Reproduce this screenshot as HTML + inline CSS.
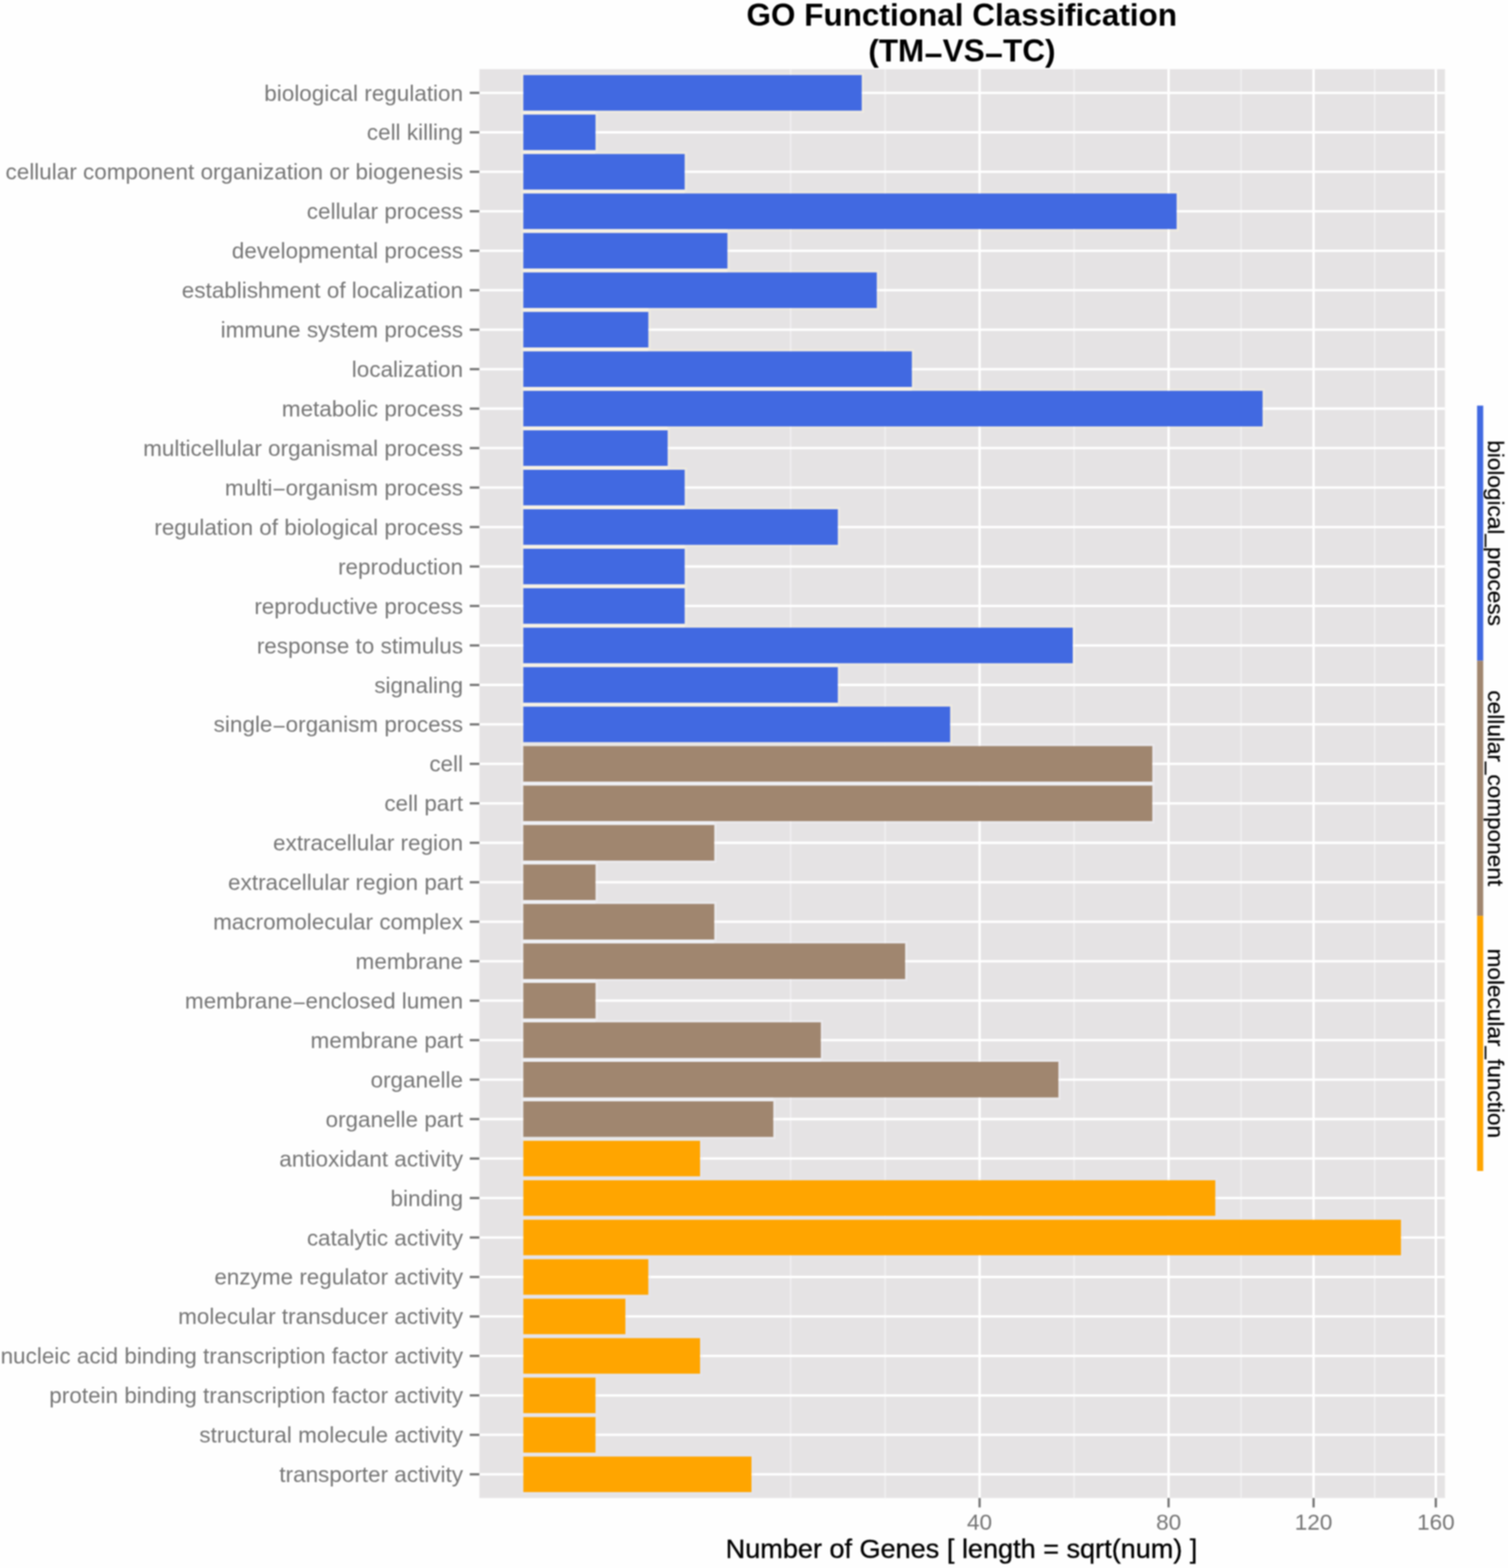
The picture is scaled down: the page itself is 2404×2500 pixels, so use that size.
<!DOCTYPE html>
<html lang="en"><head><meta charset="utf-8"><title>GO Functional Classification (TM-VS-TC)</title>
<style>
html,body{margin:0;padding:0;background:#fefefe;}
body{width:2404px;height:2500px;overflow:hidden;}
svg{display:block;font-family:"Liberation Sans",Arial,Helvetica,sans-serif;}
.yl{fill:#767676;text-anchor:end;}
.xl{fill:#767676;text-anchor:middle;}
.lg{fill:#000;text-anchor:middle;stroke:#000;stroke-width:0.35px;}
.ttl{font-weight:700;fill:#000;text-anchor:middle;}
.xt{fill:#000;text-anchor:middle;stroke:#000;stroke-width:0.5px;}
</style></head><body>
<svg width="2404" height="2500" viewBox="0 0 2404 2500">
<defs>
<filter id="soft" x="-5%" y="-5%" width="110%" height="110%" color-interpolation-filters="sRGB"><feGaussianBlur stdDeviation="0.9"/></filter>
<filter id="softtext" x="-5%" y="-5%" width="110%" height="110%" color-interpolation-filters="sRGB"><feGaussianBlur stdDeviation="0.9"/></filter>
</defs>
<rect x="-10" y="-10" width="2424" height="2520" fill="#fefefe"/>
<g id="plot" filter="url(#soft)">
<g id="panel">
<rect x="764.2" y="110.3" width="1539.3" height="2278.1" fill="#E5E3E4"/>
<g id="grid-minor" stroke="#F0EFF0" stroke-width="2.6">
<line x1="1260.36" y1="110.3" x2="1260.36" y2="2388.4"/>
<line x1="1410.99" y1="110.3" x2="1410.99" y2="2388.4"/>
<line x1="1712.26" y1="110.3" x2="1712.26" y2="2388.4"/>
<line x1="1978.48" y1="110.3" x2="1978.48" y2="2388.4"/>
<line x1="2191.5" y1="110.3" x2="2191.5" y2="2388.4"/>
</g>
<g id="grid-major" stroke="#FFFFFF" stroke-width="3.8">
<line x1="764.2" y1="148.06" x2="2303.5" y2="148.06"/>
<line x1="764.2" y1="210.99" x2="2303.5" y2="210.99"/>
<line x1="764.2" y1="273.92" x2="2303.5" y2="273.92"/>
<line x1="764.2" y1="336.85" x2="2303.5" y2="336.85"/>
<line x1="764.2" y1="399.78" x2="2303.5" y2="399.78"/>
<line x1="764.2" y1="462.71" x2="2303.5" y2="462.71"/>
<line x1="764.2" y1="525.64" x2="2303.5" y2="525.64"/>
<line x1="764.2" y1="588.58" x2="2303.5" y2="588.58"/>
<line x1="764.2" y1="651.51" x2="2303.5" y2="651.51"/>
<line x1="764.2" y1="714.44" x2="2303.5" y2="714.44"/>
<line x1="764.2" y1="777.37" x2="2303.5" y2="777.37"/>
<line x1="764.2" y1="840.3" x2="2303.5" y2="840.3"/>
<line x1="764.2" y1="903.23" x2="2303.5" y2="903.23"/>
<line x1="764.2" y1="966.16" x2="2303.5" y2="966.16"/>
<line x1="764.2" y1="1029.09" x2="2303.5" y2="1029.09"/>
<line x1="764.2" y1="1092.02" x2="2303.5" y2="1092.02"/>
<line x1="764.2" y1="1154.95" x2="2303.5" y2="1154.95"/>
<line x1="764.2" y1="1217.88" x2="2303.5" y2="1217.88"/>
<line x1="764.2" y1="1280.82" x2="2303.5" y2="1280.82"/>
<line x1="764.2" y1="1343.75" x2="2303.5" y2="1343.75"/>
<line x1="764.2" y1="1406.68" x2="2303.5" y2="1406.68"/>
<line x1="764.2" y1="1469.61" x2="2303.5" y2="1469.61"/>
<line x1="764.2" y1="1532.54" x2="2303.5" y2="1532.54"/>
<line x1="764.2" y1="1595.47" x2="2303.5" y2="1595.47"/>
<line x1="764.2" y1="1658.4" x2="2303.5" y2="1658.4"/>
<line x1="764.2" y1="1721.33" x2="2303.5" y2="1721.33"/>
<line x1="764.2" y1="1784.26" x2="2303.5" y2="1784.26"/>
<line x1="764.2" y1="1847.19" x2="2303.5" y2="1847.19"/>
<line x1="764.2" y1="1910.12" x2="2303.5" y2="1910.12"/>
<line x1="764.2" y1="1973.06" x2="2303.5" y2="1973.06"/>
<line x1="764.2" y1="2035.99" x2="2303.5" y2="2035.99"/>
<line x1="764.2" y1="2098.92" x2="2303.5" y2="2098.92"/>
<line x1="764.2" y1="2161.85" x2="2303.5" y2="2161.85"/>
<line x1="764.2" y1="2224.78" x2="2303.5" y2="2224.78"/>
<line x1="764.2" y1="2287.71" x2="2303.5" y2="2287.71"/>
<line x1="764.2" y1="2350.64" x2="2303.5" y2="2350.64"/>
<line x1="1561.62" y1="110.3" x2="1561.62" y2="2388.4"/>
<line x1="1862.89" y1="110.3" x2="1862.89" y2="2388.4"/>
<line x1="2094.06" y1="110.3" x2="2094.06" y2="2388.4"/>
<line x1="2288.95" y1="110.3" x2="2288.95" y2="2388.4"/>
</g>
<g id="halo" fill="none" stroke-width="2.2" stroke-opacity="0.45">
<rect x="831.8" y="117.24" width="544.4" height="61.64" stroke="#FBF4DC"/>
<rect x="831.8" y="180.17" width="120" height="61.64" stroke="#FBF4DC"/>
<rect x="831.8" y="243.1" width="262.15" height="61.64" stroke="#FBF4DC"/>
<rect x="831.8" y="306.03" width="1046.37" height="61.64" stroke="#FBF4DC"/>
<rect x="831.8" y="368.96" width="330.27" height="61.64" stroke="#FBF4DC"/>
<rect x="831.8" y="431.89" width="568.38" height="61.64" stroke="#FBF4DC"/>
<rect x="831.8" y="494.83" width="204.19" height="61.64" stroke="#FBF4DC"/>
<rect x="831.8" y="557.76" width="624.29" height="61.64" stroke="#FBF4DC"/>
<rect x="831.8" y="620.69" width="1183.4" height="61.64" stroke="#FBF4DC"/>
<rect x="831.8" y="683.62" width="235" height="61.64" stroke="#FBF4DC"/>
<rect x="831.8" y="746.55" width="262.15" height="61.64" stroke="#FBF4DC"/>
<rect x="831.8" y="809.48" width="506.27" height="61.64" stroke="#FBF4DC"/>
<rect x="831.8" y="872.41" width="262.15" height="61.64" stroke="#FBF4DC"/>
<rect x="831.8" y="935.34" width="262.15" height="61.64" stroke="#FBF4DC"/>
<rect x="831.8" y="998.27" width="880.81" height="61.64" stroke="#FBF4DC"/>
<rect x="831.8" y="1061.2" width="506.27" height="61.64" stroke="#FBF4DC"/>
<rect x="831.8" y="1124.13" width="685.35" height="61.64" stroke="#FBF4DC"/>
<rect x="831.8" y="1187.07" width="1007.55" height="61.64" stroke="#F3F5FB"/>
<rect x="831.8" y="1250" width="1007.55" height="61.64" stroke="#F3F5FB"/>
<rect x="831.8" y="1312.93" width="309.26" height="61.64" stroke="#F3F5FB"/>
<rect x="831.8" y="1375.86" width="120" height="61.64" stroke="#F3F5FB"/>
<rect x="831.8" y="1438.79" width="309.26" height="61.64" stroke="#F3F5FB"/>
<rect x="831.8" y="1501.72" width="613.52" height="61.64" stroke="#F3F5FB"/>
<rect x="831.8" y="1564.65" width="120" height="61.64" stroke="#F3F5FB"/>
<rect x="831.8" y="1627.58" width="479.16" height="61.64" stroke="#F3F5FB"/>
<rect x="831.8" y="1690.51" width="857.86" height="61.64" stroke="#F3F5FB"/>
<rect x="831.8" y="1753.44" width="403.37" height="61.64" stroke="#F3F5FB"/>
<rect x="831.8" y="1816.37" width="286.69" height="61.64" stroke="#E4E6F4"/>
<rect x="831.8" y="1879.31" width="1108.04" height="61.64" stroke="#E4E6F4"/>
<rect x="831.8" y="1942.24" width="1404.04" height="61.64" stroke="#E4E6F4"/>
<rect x="831.8" y="2005.17" width="204.19" height="61.64" stroke="#E4E6F4"/>
<rect x="831.8" y="2068.1" width="167.63" height="61.64" stroke="#E4E6F4"/>
<rect x="831.8" y="2131.03" width="286.69" height="61.64" stroke="#E4E6F4"/>
<rect x="831.8" y="2193.96" width="120" height="61.64" stroke="#E4E6F4"/>
<rect x="831.8" y="2256.89" width="120" height="61.64" stroke="#E4E6F4"/>
<rect x="831.8" y="2319.82" width="368.66" height="61.64" stroke="#E4E6F4"/>
</g>
<g id="gaps">
<rect x="834.3" y="176.38" width="115" height="6.29" fill="#F7F1E3"/>
<rect x="834.3" y="239.31" width="115" height="6.29" fill="#F7F1E3"/>
<rect x="834.3" y="302.24" width="257.15" height="6.29" fill="#F7F1E3"/>
<rect x="834.3" y="365.17" width="325.27" height="6.29" fill="#F7F1E3"/>
<rect x="834.3" y="428.1" width="325.27" height="6.29" fill="#F7F1E3"/>
<rect x="834.3" y="491.03" width="199.19" height="6.29" fill="#F7F1E3"/>
<rect x="834.3" y="553.96" width="199.19" height="6.29" fill="#F7F1E3"/>
<rect x="834.3" y="616.89" width="619.29" height="6.29" fill="#F7F1E3"/>
<rect x="834.3" y="679.82" width="230" height="6.29" fill="#F7F1E3"/>
<rect x="834.3" y="742.76" width="230" height="6.29" fill="#F7F1E3"/>
<rect x="834.3" y="805.69" width="257.15" height="6.29" fill="#F7F1E3"/>
<rect x="834.3" y="868.62" width="257.15" height="6.29" fill="#F7F1E3"/>
<rect x="834.3" y="931.55" width="257.15" height="6.29" fill="#F7F1E3"/>
<rect x="834.3" y="994.48" width="257.15" height="6.29" fill="#F7F1E3"/>
<rect x="834.3" y="1057.41" width="501.27" height="6.29" fill="#F7F1E3"/>
<rect x="834.3" y="1120.34" width="501.27" height="6.29" fill="#F7F1E3"/>
<rect x="834.3" y="1183.27" width="680.35" height="6.29" fill="#EAE8E4"/>
<rect x="834.3" y="1246.2" width="1002.55" height="6.29" fill="#EEF0F5"/>
<rect x="834.3" y="1309.13" width="304.26" height="6.29" fill="#EEF0F5"/>
<rect x="834.3" y="1372.07" width="115" height="6.29" fill="#EEF0F5"/>
<rect x="834.3" y="1435" width="115" height="6.29" fill="#EEF0F5"/>
<rect x="834.3" y="1497.93" width="304.26" height="6.29" fill="#EEF0F5"/>
<rect x="834.3" y="1560.86" width="115" height="6.29" fill="#EEF0F5"/>
<rect x="834.3" y="1623.79" width="115" height="6.29" fill="#EEF0F5"/>
<rect x="834.3" y="1686.72" width="474.16" height="6.29" fill="#EEF0F5"/>
<rect x="834.3" y="1749.65" width="398.37" height="6.29" fill="#EEF0F5"/>
<rect x="834.3" y="1812.58" width="281.69" height="6.29" fill="#E8E8EA"/>
<rect x="834.3" y="1875.51" width="281.69" height="6.29" fill="#E4E4EC"/>
<rect x="834.3" y="1938.44" width="1103.04" height="6.29" fill="#E4E4EC"/>
<rect x="834.3" y="2001.37" width="199.19" height="6.29" fill="#E4E4EC"/>
<rect x="834.3" y="2064.31" width="162.63" height="6.29" fill="#E4E4EC"/>
<rect x="834.3" y="2127.24" width="162.63" height="6.29" fill="#E4E4EC"/>
<rect x="834.3" y="2190.17" width="115" height="6.29" fill="#E4E4EC"/>
<rect x="834.3" y="2253.1" width="115" height="6.29" fill="#E4E4EC"/>
<rect x="834.3" y="2316.03" width="115" height="6.29" fill="#E4E4EC"/>
</g>
<g id="bars">
<rect x="834.3" y="119.74" width="539.4" height="56.64" fill="#4169E1"/>
<rect x="834.3" y="182.67" width="115" height="56.64" fill="#4169E1"/>
<rect x="834.3" y="245.6" width="257.15" height="56.64" fill="#4169E1"/>
<rect x="834.3" y="308.53" width="1041.37" height="56.64" fill="#4169E1"/>
<rect x="834.3" y="371.46" width="325.27" height="56.64" fill="#4169E1"/>
<rect x="834.3" y="434.39" width="563.38" height="56.64" fill="#4169E1"/>
<rect x="834.3" y="497.33" width="199.19" height="56.64" fill="#4169E1"/>
<rect x="834.3" y="560.26" width="619.29" height="56.64" fill="#4169E1"/>
<rect x="834.3" y="623.19" width="1178.4" height="56.64" fill="#4169E1"/>
<rect x="834.3" y="686.12" width="230" height="56.64" fill="#4169E1"/>
<rect x="834.3" y="749.05" width="257.15" height="56.64" fill="#4169E1"/>
<rect x="834.3" y="811.98" width="501.27" height="56.64" fill="#4169E1"/>
<rect x="834.3" y="874.91" width="257.15" height="56.64" fill="#4169E1"/>
<rect x="834.3" y="937.84" width="257.15" height="56.64" fill="#4169E1"/>
<rect x="834.3" y="1000.77" width="875.81" height="56.64" fill="#4169E1"/>
<rect x="834.3" y="1063.7" width="501.27" height="56.64" fill="#4169E1"/>
<rect x="834.3" y="1126.63" width="680.35" height="56.64" fill="#4169E1"/>
<rect x="834.3" y="1189.57" width="1002.55" height="56.64" fill="#A0866F"/>
<rect x="834.3" y="1252.5" width="1002.55" height="56.64" fill="#A0866F"/>
<rect x="834.3" y="1315.43" width="304.26" height="56.64" fill="#A0866F"/>
<rect x="834.3" y="1378.36" width="115" height="56.64" fill="#A0866F"/>
<rect x="834.3" y="1441.29" width="304.26" height="56.64" fill="#A0866F"/>
<rect x="834.3" y="1504.22" width="608.52" height="56.64" fill="#A0866F"/>
<rect x="834.3" y="1567.15" width="115" height="56.64" fill="#A0866F"/>
<rect x="834.3" y="1630.08" width="474.16" height="56.64" fill="#A0866F"/>
<rect x="834.3" y="1693.01" width="852.86" height="56.64" fill="#A0866F"/>
<rect x="834.3" y="1755.94" width="398.37" height="56.64" fill="#A0866F"/>
<rect x="834.3" y="1818.87" width="281.69" height="56.64" fill="#FFA500"/>
<rect x="834.3" y="1881.81" width="1103.04" height="56.64" fill="#FFA500"/>
<rect x="834.3" y="1944.74" width="1399.04" height="56.64" fill="#FFA500"/>
<rect x="834.3" y="2007.67" width="199.19" height="56.64" fill="#FFA500"/>
<rect x="834.3" y="2070.6" width="162.63" height="56.64" fill="#FFA500"/>
<rect x="834.3" y="2133.53" width="281.69" height="56.64" fill="#FFA500"/>
<rect x="834.3" y="2196.46" width="115" height="56.64" fill="#FFA500"/>
<rect x="834.3" y="2259.39" width="115" height="56.64" fill="#FFA500"/>
<rect x="834.3" y="2322.32" width="363.66" height="56.64" fill="#FFA500"/>
</g></g>
<g id="legend-keys">
<rect x="2354.7" y="646.7" width="9.8" height="406.77" fill="#4169E1"/>
<rect x="2354.7" y="1053.47" width="9.8" height="406.77" fill="#A0866F"/>
<rect x="2354.7" y="1460.23" width="9.8" height="406.77" fill="#FFA500"/>
</g>
<g id="ticks" stroke="#747474" stroke-width="3.6">
<line x1="748.9000000000001" y1="148.06" x2="764.2" y2="148.06"/>
<line x1="748.9000000000001" y1="210.99" x2="764.2" y2="210.99"/>
<line x1="748.9000000000001" y1="273.92" x2="764.2" y2="273.92"/>
<line x1="748.9000000000001" y1="336.85" x2="764.2" y2="336.85"/>
<line x1="748.9000000000001" y1="399.78" x2="764.2" y2="399.78"/>
<line x1="748.9000000000001" y1="462.71" x2="764.2" y2="462.71"/>
<line x1="748.9000000000001" y1="525.64" x2="764.2" y2="525.64"/>
<line x1="748.9000000000001" y1="588.58" x2="764.2" y2="588.58"/>
<line x1="748.9000000000001" y1="651.51" x2="764.2" y2="651.51"/>
<line x1="748.9000000000001" y1="714.44" x2="764.2" y2="714.44"/>
<line x1="748.9000000000001" y1="777.37" x2="764.2" y2="777.37"/>
<line x1="748.9000000000001" y1="840.3" x2="764.2" y2="840.3"/>
<line x1="748.9000000000001" y1="903.23" x2="764.2" y2="903.23"/>
<line x1="748.9000000000001" y1="966.16" x2="764.2" y2="966.16"/>
<line x1="748.9000000000001" y1="1029.09" x2="764.2" y2="1029.09"/>
<line x1="748.9000000000001" y1="1092.02" x2="764.2" y2="1092.02"/>
<line x1="748.9000000000001" y1="1154.95" x2="764.2" y2="1154.95"/>
<line x1="748.9000000000001" y1="1217.88" x2="764.2" y2="1217.88"/>
<line x1="748.9000000000001" y1="1280.82" x2="764.2" y2="1280.82"/>
<line x1="748.9000000000001" y1="1343.75" x2="764.2" y2="1343.75"/>
<line x1="748.9000000000001" y1="1406.68" x2="764.2" y2="1406.68"/>
<line x1="748.9000000000001" y1="1469.61" x2="764.2" y2="1469.61"/>
<line x1="748.9000000000001" y1="1532.54" x2="764.2" y2="1532.54"/>
<line x1="748.9000000000001" y1="1595.47" x2="764.2" y2="1595.47"/>
<line x1="748.9000000000001" y1="1658.4" x2="764.2" y2="1658.4"/>
<line x1="748.9000000000001" y1="1721.33" x2="764.2" y2="1721.33"/>
<line x1="748.9000000000001" y1="1784.26" x2="764.2" y2="1784.26"/>
<line x1="748.9000000000001" y1="1847.19" x2="764.2" y2="1847.19"/>
<line x1="748.9000000000001" y1="1910.12" x2="764.2" y2="1910.12"/>
<line x1="748.9000000000001" y1="1973.06" x2="764.2" y2="1973.06"/>
<line x1="748.9000000000001" y1="2035.99" x2="764.2" y2="2035.99"/>
<line x1="748.9000000000001" y1="2098.92" x2="764.2" y2="2098.92"/>
<line x1="748.9000000000001" y1="2161.85" x2="764.2" y2="2161.85"/>
<line x1="748.9000000000001" y1="2224.78" x2="764.2" y2="2224.78"/>
<line x1="748.9000000000001" y1="2287.71" x2="764.2" y2="2287.71"/>
<line x1="748.9000000000001" y1="2350.64" x2="764.2" y2="2350.64"/>
<line x1="1561.62" y1="2388.4" x2="1561.62" y2="2403.4"/>
<line x1="1862.89" y1="2388.4" x2="1862.89" y2="2403.4"/>
<line x1="2094.06" y1="2388.4" x2="2094.06" y2="2403.4"/>
<line x1="2288.95" y1="2388.4" x2="2288.95" y2="2403.4"/>
</g>
</g>
<g id="labels" filter="url(#softtext)">
<g id="ylabels">
<text class="yl" transform="translate(738.2,160.56) scale(1.0417,1)" font-size="34.43">biological regulation</text>
<text class="yl" transform="translate(738.2,223.49) scale(1.0417,1)" font-size="34.43">cell killing</text>
<text class="yl" transform="translate(738.2,286.42) scale(1.0417,1)" font-size="34.43">cellular component organization or biogenesis</text>
<text class="yl" transform="translate(738.2,349.35) scale(1.0417,1)" font-size="34.43">cellular process</text>
<text class="yl" transform="translate(738.2,412.28) scale(1.0417,1)" font-size="34.43">developmental process</text>
<text class="yl" transform="translate(738.2,475.21) scale(1.0417,1)" font-size="34.43">establishment of localization</text>
<text class="yl" transform="translate(738.2,538.14) scale(1.0417,1)" font-size="34.43">immune system process</text>
<text class="yl" transform="translate(738.2,601.08) scale(1.0417,1)" font-size="34.43">localization</text>
<text class="yl" transform="translate(738.2,664.01) scale(1.0417,1)" font-size="34.43">metabolic process</text>
<text class="yl" transform="translate(738.2,726.94) scale(1.0417,1)" font-size="34.43">multicellular organismal process</text>
<text class="yl" transform="translate(738.2,789.87) scale(1.0417,1)" font-size="34.43">multi<tspan dy="2.6">−</tspan><tspan dy="-2.6">organism process</tspan></text>
<text class="yl" transform="translate(738.2,852.8) scale(1.0417,1)" font-size="34.43">regulation of biological process</text>
<text class="yl" transform="translate(738.2,915.73) scale(1.0417,1)" font-size="34.43">reproduction</text>
<text class="yl" transform="translate(738.2,978.66) scale(1.0417,1)" font-size="34.43">reproductive process</text>
<text class="yl" transform="translate(738.2,1041.59) scale(1.0417,1)" font-size="34.43">response to stimulus</text>
<text class="yl" transform="translate(738.2,1104.52) scale(1.0417,1)" font-size="34.43">signaling</text>
<text class="yl" transform="translate(738.2,1167.45) scale(1.0417,1)" font-size="34.43">single<tspan dy="2.6">−</tspan><tspan dy="-2.6">organism process</tspan></text>
<text class="yl" transform="translate(738.2,1230.38) scale(1.0417,1)" font-size="34.43">cell</text>
<text class="yl" transform="translate(738.2,1293.32) scale(1.0417,1)" font-size="34.43">cell part</text>
<text class="yl" transform="translate(738.2,1356.25) scale(1.0417,1)" font-size="34.43">extracellular region</text>
<text class="yl" transform="translate(738.2,1419.18) scale(1.0417,1)" font-size="34.43">extracellular region part</text>
<text class="yl" transform="translate(738.2,1482.11) scale(1.0417,1)" font-size="34.43">macromolecular complex</text>
<text class="yl" transform="translate(738.2,1545.04) scale(1.0417,1)" font-size="34.43">membrane</text>
<text class="yl" transform="translate(738.2,1607.97) scale(1.0417,1)" font-size="34.43">membrane<tspan dy="2.6">−</tspan><tspan dy="-2.6">enclosed lumen</tspan></text>
<text class="yl" transform="translate(738.2,1670.9) scale(1.0417,1)" font-size="34.43">membrane part</text>
<text class="yl" transform="translate(738.2,1733.83) scale(1.0417,1)" font-size="34.43">organelle</text>
<text class="yl" transform="translate(738.2,1796.76) scale(1.0417,1)" font-size="34.43">organelle part</text>
<text class="yl" transform="translate(738.2,1859.69) scale(1.0417,1)" font-size="34.43">antioxidant activity</text>
<text class="yl" transform="translate(738.2,1922.62) scale(1.0417,1)" font-size="34.43">binding</text>
<text class="yl" transform="translate(738.2,1985.56) scale(1.0417,1)" font-size="34.43">catalytic activity</text>
<text class="yl" transform="translate(738.2,2048.49) scale(1.0417,1)" font-size="34.43">enzyme regulator activity</text>
<text class="yl" transform="translate(738.2,2111.42) scale(1.0417,1)" font-size="34.43">molecular transducer activity</text>
<text class="yl" transform="translate(738.2,2174.35) scale(1.0417,1)" font-size="34.43">nucleic acid binding transcription factor activity</text>
<text class="yl" transform="translate(738.2,2237.28) scale(1.0417,1)" font-size="34.43">protein binding transcription factor activity</text>
<text class="yl" transform="translate(738.2,2300.21) scale(1.0417,1)" font-size="34.43">structural molecule activity</text>
<text class="yl" transform="translate(738.2,2363.14) scale(1.0417,1)" font-size="34.43">transporter activity</text>
</g>
<g id="xlabels">
<text class="xl" transform="translate(1561.62,2439.1) scale(1.0417,1)" font-size="34.56">40</text>
<text class="xl" transform="translate(1862.89,2439.1) scale(1.0417,1)" font-size="34.56">80</text>
<text class="xl" transform="translate(2094.06,2439.1) scale(1.0417,1)" font-size="34.56">120</text>
<text class="xl" transform="translate(2288.95,2439.1) scale(1.0417,1)" font-size="34.56">160</text>
</g>
<text class="xt" transform="translate(1532.8,2483.6) scale(1.0351,1)" font-size="41.71">Number of Genes [ length = sqrt(num) ]</text>
<text class="ttl" transform="translate(1533.2,41) scale(1.0045,1)" font-size="50">GO Functional Classification</text>
<text class="ttl" transform="translate(1533.5,98) scale(1.0045,1)" font-size="50">(TM<tspan dy="6.5">−</tspan><tspan dy="-6.5">VS</tspan><tspan dy="6.5">−</tspan><tspan dy="-6.5">TC)</tspan></text>
<g id="legend">
<text class="lg" transform="translate(2371.8,850.08) rotate(90) scale(1.0417,1)" font-size="34.56">biological<tspan dy="-1.8">_</tspan><tspan dy="1.8">process</tspan></text>
<text class="lg" transform="translate(2371.8,1256.85) rotate(90) scale(1.0417,1)" font-size="34.56">cellular<tspan dy="-1.8">_</tspan><tspan dy="1.8">component</tspan></text>
<text class="lg" transform="translate(2371.8,1663.62) rotate(90) scale(1.0417,1)" font-size="34.56">molecular<tspan dy="-1.8">_</tspan><tspan dy="1.8">function</tspan></text>
</g>
</g>
</svg></body></html>
